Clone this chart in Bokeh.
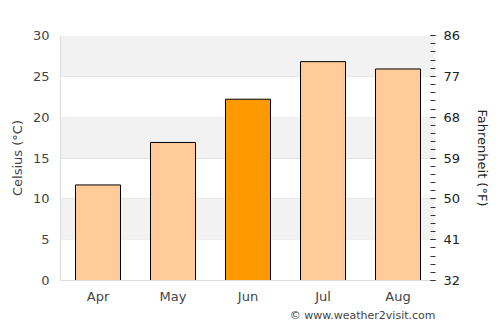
import math
from bokeh.plotting import figure
from bokeh.models import (ColumnDataSource, Range1d, LinearAxis, FixedTicker,
                          BoxAnnotation, Title, FactorRange)
from bokeh.embed import file_html
from bokeh.resources import INLINE

months = ["Apr", "May", "Jun", "Jul", "Aug"]
celsius = [11.7, 16.9, 22.2, 26.8, 25.9]
colors = ["#ffcc99", "#ffcc99", "#ff9900", "#ffcc99", "#ffcc99"]
c_ticks = [0, 5, 10, 15, 20, 25, 30]
f_ticks = [32, 41, 50, 59, 68, 77, 86]
f_minor = [32 + 1.8 * i for i in range(31)]
bands = [(25, 30), (15, 20), (5, 10)]

FONT = "DejaVu Sans"

p = figure(x_range=FactorRange(*months, range_padding=0), y_range=Range1d(0, 30),
           frame_width=375, frame_height=245,
           min_border_left=60, min_border_right=65, min_border_top=35, min_border_bottom=10,
           output_backend="svg", toolbar_location=None, outline_line_color=None,
           background_fill_color="white", border_fill_color="white")

for b, t in bands:
    p.add_layout(BoxAnnotation(bottom=b, top=t, fill_color="#f2f2f2", fill_alpha=1,
                               line_color=None, level="underlay"))

src = ColumnDataSource(dict(month=months, c=celsius, color=colors))
p.vbar(x="month", top="c", width=0.6, source=src, fill_color="color",
       line_color="black", line_width=1)

p.yaxis.ticker = FixedTicker(ticks=c_ticks)
p.yaxis.axis_label = "Celsius (°C)"
p.yaxis.axis_line_color = "#dddddd"
p.yaxis.major_tick_line_color = None
p.yaxis.minor_tick_line_color = None
p.yaxis.major_label_text_color = "#444444"
p.yaxis.major_label_text_font = FONT
p.yaxis.major_label_text_font_size = "13px"
p.yaxis.axis_label_text_font = FONT
p.yaxis.axis_label_text_font_style = "normal"
p.yaxis.axis_label_text_font_size = "13px"
p.yaxis.axis_label_text_color = "#444444"
p.yaxis.major_label_standoff = 5

p.xaxis.axis_line_color = "#dddddd"
p.xaxis.major_tick_line_color = None
p.xaxis.minor_tick_line_color = None
p.xaxis.major_label_text_color = "#444444"
p.xaxis.major_label_text_font = FONT
p.xaxis.major_label_text_font_size = "13px"
p.xaxis.major_label_standoff = 2

p.xgrid.grid_line_color = None
p.ygrid.grid_line_color = "#e2e2e2"
p.ygrid.ticker = FixedTicker(ticks=c_ticks)

p.extra_y_ranges = {"f": Range1d(32, 86)}
fax = LinearAxis(y_range_name="f", ticker=FixedTicker(ticks=f_ticks, minor_ticks=f_minor))
fax.axis_label = "Fahrenheit (°F)"
fax.axis_label_standoff = 12
fax.axis_line_color = None
fax.major_tick_in = 5
fax.major_tick_out = 0
fax.minor_tick_in = 5
fax.minor_tick_out = 0
fax.major_tick_line_color = "#333333"
fax.minor_tick_line_color = "#333333"
fax.major_label_text_color = "#222222"
fax.major_label_text_font = FONT
fax.major_label_text_font_size = "13px"
fax.major_label_standoff = 8
fax.axis_label_text_font = FONT
fax.axis_label_text_font_style = "normal"
fax.axis_label_text_font_size = "13px"
fax.axis_label_text_color = "#222222"
p.add_layout(fax, "right")

p.add_layout(Title(text="© www.weather2visit.com", align="right",
                   text_font=FONT, text_font_size="11px", text_color="#444444",
                   text_font_style="normal", standoff=0), "below")

open("out.html", "w").write(file_html(p, INLINE))
